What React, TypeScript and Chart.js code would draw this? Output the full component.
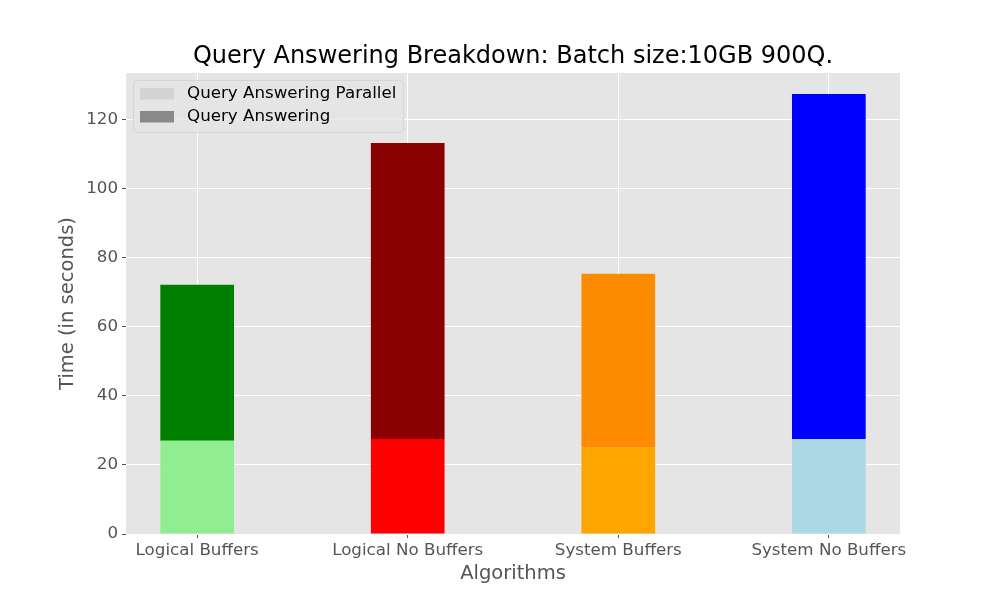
import React, { useEffect, useRef } from "react";
import { Chart, registerables } from "chart.js";

Chart.register(...registerables);

const categories = ["Logical Buffers", "Logical No Buffers", "System Buffers", "System No Buffers"];
const parallelValues = [27.0, 27.5, 25.0, 27.5];
const totalValues = [72.2, 113.3, 75.4, 127.5];
const parallelColors = ["#90EE90", "#FF0000", "#FFA500", "#ADD8E6"];
const totalColors = ["#008000", "#8B0000", "#FF8C00", "#0000FF"];
const yTicks = [0, 20, 40, 60, 80, 100, 120];
const legendLabels = ["Query Answering Parallel", "Query Answering"];
const legendColors = ["#D3D3D3", "#898989"];
const titleText = "Query Answering Breakdown: Batch size:10GB 900Q.";
const xTitle = "Algorithms";
const yTitle = "Time (in seconds)";

const FONT = "'DejaVu Sans', sans-serif";

export default function App() {
  const ref = useRef<HTMLCanvasElement | null>(null);

  useEffect(() => {
    document.body.style.margin = "0";
    const canvas = ref.current;
    if (!canvas) return;

    const bgPlugin = {
      id: "bg",
      beforeDraw(chart: any) {
        const { ctx, chartArea } = chart;
        ctx.save();
        ctx.fillStyle = "#E5E5E5";
        ctx.fillRect(chartArea.left, chartArea.top, chartArea.right - chartArea.left, chartArea.bottom - chartArea.top);
        ctx.restore();
      },
    };

    const textPlugin = {
      id: "texts",
      afterDraw(chart: any) {
        const { ctx, chartArea } = chart;
        const cx = (chartArea.left + chartArea.right) / 2;
        const cy = (chartArea.top + chartArea.bottom) / 2;
        ctx.save();
        // title
        ctx.fillStyle = "#000";
        ctx.font = `24px ${FONT}`;
        ctx.textAlign = "center";
        ctx.textBaseline = "middle";
        ctx.fillText(titleText, cx, 57);
        // axis titles
        ctx.fillStyle = "#555555";
        ctx.font = `19.5px ${FONT}`;
        ctx.fillText(xTitle, cx, 574);
        ctx.save();
        ctx.translate(68, cy);
        ctx.rotate(-Math.PI / 2);
        ctx.fillText(yTitle, 0, 0);
        ctx.restore();
        // legend
        const lx = 133.5, ly = 80.5, lw = 270, lh = 52, r = 4;
        ctx.beginPath();
        ctx.moveTo(lx + r, ly);
        ctx.lineTo(lx + lw - r, ly);
        ctx.quadraticCurveTo(lx + lw, ly, lx + lw, ly + r);
        ctx.lineTo(lx + lw, ly + lh - r);
        ctx.quadraticCurveTo(lx + lw, ly + lh, lx + lw - r, ly + lh);
        ctx.lineTo(lx + r, ly + lh);
        ctx.quadraticCurveTo(lx, ly + lh, lx, ly + lh - r);
        ctx.lineTo(lx, ly + r);
        ctx.quadraticCurveTo(lx, ly, lx + r, ly);
        ctx.closePath();
        ctx.fillStyle = "rgba(229,229,229,0.8)";
        ctx.fill();
        ctx.strokeStyle = "#D5D5D5";
        ctx.lineWidth = 1;
        ctx.stroke();
        ctx.font = `16.7px ${FONT}`;
        ctx.textAlign = "left";
        legendLabels.forEach((lab, i) => {
          const rowY = 94 + i * 23;
          ctx.fillStyle = legendColors[i];
          ctx.fillRect(140, rowY - 6, 34, 11.5);
          ctx.fillStyle = "#000";
          ctx.fillText(lab, 187, rowY);
        });
        ctx.restore();
      },
    };

    const chart = new Chart(canvas, {
      type: "bar",
      data: {
        datasets: [
          {
            label: legendLabels[0],
            data: parallelValues.map((v, i) => ({ x: i, y: v })),
            backgroundColor: parallelColors,
            barPercentage: 0.35,
            categoryPercentage: 1,
          },
          {
            label: legendLabels[1],
            data: totalValues.map((v, i) => ({ x: i, y: v - parallelValues[i] })),
            backgroundColor: totalColors,
            barPercentage: 0.35,
            categoryPercentage: 1,
          },
        ],
      },
      options: {
        responsive: false,
        animation: false,
        layout: { padding: { top: 73, right: 100, left: 0, bottom: 0 } },
        plugins: {
          legend: { display: false },
          title: { display: false },
          tooltip: { enabled: false },
        },
        scales: {
          x: {
            type: "linear",
            stacked: true,
            offset: false,
            min: -0.338,
            max: 3.338,
            afterFit(scale: any) {
              scale.height = 66;
            },
            afterBuildTicks(scale: any) {
              scale.ticks = categories.map((_, i) => ({ value: i }));
            },
            grid: {
              offset: false,
              color: "#FFFFFF",
              lineWidth: 1,
              tickColor: "#555555",
              tickLength: 4,
            },
            border: { display: false },
            ticks: {
              color: "#555555",
              font: { family: FONT, size: 16.7 },
              padding: 3,
              maxRotation: 0,
              autoSkip: false,
              callback: (v: any) => categories[Math.round(Number(v))] ?? "",
            },
          },
          y: {
            stacked: true,
            min: 0,
            max: 133.6,
            afterFit(scale: any) {
              scale.width = 126;
            },
            afterBuildTicks(scale: any) {
              scale.ticks = yTicks.map((v) => ({ value: v }));
            },
            grid: {
              color: "#FFFFFF",
              lineWidth: 1,
              tickColor: "#555555",
              tickLength: 4,
            },
            border: { display: false },
            ticks: {
              color: "#555555",
              font: { family: FONT, size: 16.7 },
              padding: 4,
            },
          },
        },
      },
      plugins: [bgPlugin, textPlugin],
    } as any);

    return () => chart.destroy();
  }, []);

  return <canvas ref={ref} width={1000} height={600} style={{ display: "block" }} />;
}
